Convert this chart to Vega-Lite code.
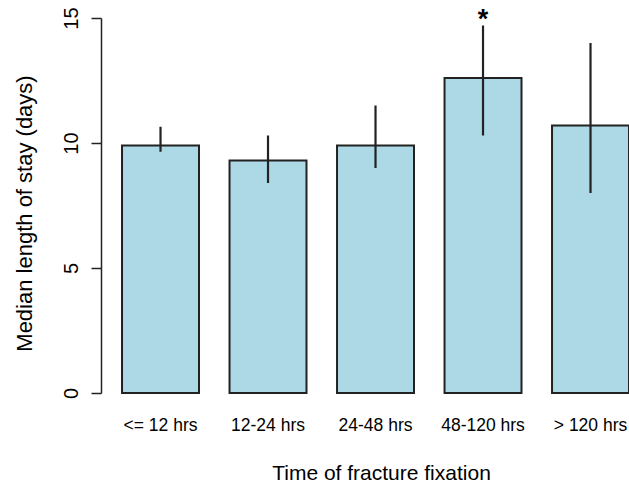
{
  "$schema": "https://vega.github.io/schema/vega-lite/v6.json",
  "width": 528,
  "height": 375,
  "autosize": {"type": "none"},
  "padding": {"left": 101, "top": 18, "right": 0, "bottom": 94},
  "background": "white",
  "config": {"view": {"stroke": null}, "font": "Liberation Sans"},
  "data": {"values": [
    {"time": "<= 12 hrs", "median": 9.9, "lo": 9.65, "hi": 10.65, "sig": ""},
    {"time": "12-24 hrs", "median": 9.3, "lo": 8.4, "hi": 10.3, "sig": ""},
    {"time": "24-48 hrs", "median": 9.9, "lo": 9.0, "hi": 11.5, "sig": ""},
    {"time": "48-120 hrs", "median": 12.6, "lo": 10.3, "hi": 14.7, "sig": "*"},
    {"time": "> 120 hrs", "median": 10.7, "lo": 8.0, "hi": 14.0, "sig": ""}
  ]},
  "encoding": {
    "x": {
      "field": "time", "type": "nominal", "sort": null,
      "scale": {"paddingInner": 0.284, "paddingOuter": 0.0978, "align": 1, "round": false},
      "axis": {
        "title": "Time of fracture fixation",
        "domain": false, "ticks": false, "labelAngle": 0,
        "labelFontSize": 17.5, "labelBaseline": "alphabetic", "labelPadding": 37,
        "labelColor": "#000",
        "titleFontSize": 21, "titleFontWeight": "normal", "titleColor": "#000",
        "titleBaseline": "alphabetic", "titleAlign": "center", "titleY": 86, "titleX": 280
      }
    }
  },
  "layer": [
    {
      "mark": {"type": "bar", "fill": "#ADD8E6", "stroke": "#222222", "strokeWidth": 2},
      "encoding": {
        "y": {
          "field": "median", "type": "quantitative",
          "scale": {"domain": [0, 15], "nice": false, "zero": true},
          "axis": {
            "values": [0, 5, 10, 15], "grid": false,
            "labelAngle": -90, "labelAlign": "center", "labelBaseline": "alphabetic",
            "labelPadding": 14, "tickSize": 10,
            "domainColor": "#222222", "tickColor": "#222222", "domainWidth": 1.5, "tickWidth": 1.5,
            "labelFontSize": 20, "labelColor": "#000",
            "title": "Median length of stay (days)",
            "titleFontSize": 22, "titleFontWeight": "normal", "titleColor": "#000",
            "titleAngle": -90, "titleAlign": "center", "titleBaseline": "alphabetic",
            "titleX": -70, "titleY": 195
          }
        }
      }
    },
    {
      "mark": {"type": "rule", "stroke": "#222222", "strokeWidth": 2.2},
      "encoding": {
        "y": {"field": "lo", "type": "quantitative"},
        "y2": {"field": "hi"}
      }
    },
    {
      "mark": {"type": "text", "fontSize": 27, "fontWeight": "bold", "baseline": "alphabetic", "dy": 2.5, "color": "#000"},
      "encoding": {
        "y": {"field": "hi", "type": "quantitative"},
        "text": {"field": "sig"}
      }
    }
  ]
}
